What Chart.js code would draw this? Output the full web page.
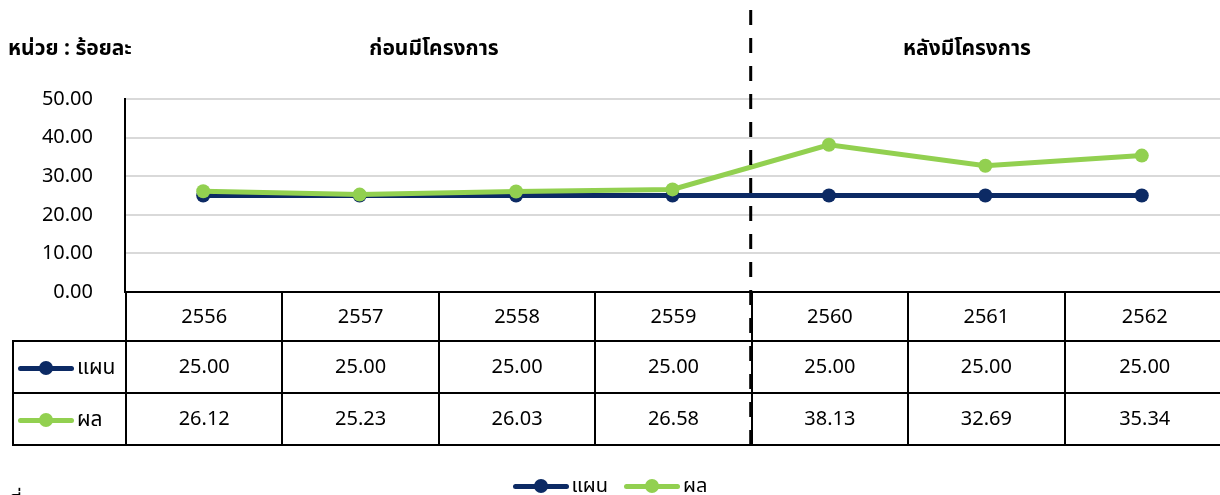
<!DOCTYPE html>
<html>
<head>
<meta charset="utf-8">
<script src="https://cdn.jsdelivr.net/npm/chart.js@4"></script>
<style>
  html, body { margin: 0; padding: 0; background: #fff; overflow: hidden; }
  body { width: 1220px; height: 495px; position: relative; font-family: Tahoma, 'Noto Sans Thai', 'Noto Sans', 'DejaVu Sans', sans-serif; color: #000; }
  #wrap { position: absolute; left: 0; top: 0; width: 1220px; height: 495px; }
  .txt { position: absolute; font-size: 20px; white-space: nowrap; }
  .bold { font-weight: bold; font-size: 21px; }
  #tbl { position: absolute; left: 12px; top: 291px; width: 1212px; border-collapse: collapse; table-layout: fixed; font-size: 20px; }
  #tbl td { border: 2px solid #000; text-align: center; padding: 0; }
  #tbl tr.head td { height: 47px; }
  #tbl tr.row td { height: 50px; }
  #tbl td.blank { border: none; }
  #tbl td.key { text-align: left; padding-left: 4px; font-size: 21px; }
  .sw { display: inline-block; position: relative; width: 56px; height: 14px; vertical-align: middle; margin-right: 3px; }
  .sw i { position: absolute; left: 0; right: 0; top: 5px; height: 5px; border-radius: 3px; }
  .sw b { position: absolute; left: 21px; top: 0; width: 14px; height: 14px; border-radius: 50%; }
  #legend { position: absolute; left: 0; width: 1220px; top: 471px; text-align: center; font-size: 20px; }
  #legend span.item { margin: 0 8px; }
</style>
</head>
<body>
<div id="wrap"><canvas id="chartPlan"></canvas></div>
<div class="txt bold" style="left:8px;top:33px">หน่วย : ร้อยละ</div>
<div class="txt bold" style="left:279px;width:310px;text-align:center;top:33px">ก่อนมีโครงการ</div>
<div class="txt bold" style="left:812px;width:310px;text-align:center;top:33px">หลังมีโครงการ</div>
<table id="tbl"></table>
<div id="legend"></div>
<div class="txt" style="left:10px;top:487px">ที่มา :</div>
<script>
const years = ['2556', '2557', '2558', '2559', '2560', '2561', '2562'];
const planVals = [25.00, 25.00, 25.00, 25.00, 25.00, 25.00, 25.00];
const resultVals = [26.12, 25.23, 26.03, 26.58, 38.13, 32.69, 35.34];
const yTicks = [0, 10, 20, 30, 40, 50];
const seriesNames = ['แผน', 'ผล'];

const navy = '#0c2a64';
const green = '#92d050';
const gridCol = '#d9d9d9';

// data table under the chart (last column runs past the page edge)
const colW = 1095 / years.length;
const swatch = c => '<span class="sw"><i style="background:' + c + '"></i><b style="background:' + c + '"></b></span>';
let html = '<colgroup><col style="width:113px">' +
    years.map((y, i) => '<col style="width:' + (i === years.length - 1 ? colW + 4 : colW) + 'px">').join('') + '</colgroup>';
html += '<tr class="head"><td class="blank"></td>' + years.map(y => '<td>' + y + '</td>').join('') + '</tr>';
html += '<tr class="row"><td class="key">' + swatch(navy) + seriesNames[0] + '</td>' + planVals.map(v => '<td>' + v.toFixed(2) + '</td>').join('') + '</tr>';
html += '<tr class="row"><td class="key">' + swatch(green) + seriesNames[1] + '</td>' + resultVals.map(v => '<td>' + v.toFixed(2) + '</td>').join('') + '</tr>';
document.getElementById('tbl').innerHTML = html;

document.getElementById('legend').innerHTML =
    '<span class="item">' + swatch(navy) + seriesNames[0] + '</span>' +
    '<span class="item">' + swatch(green) + seriesNames[1] + '</span>';

// dashed divider between before/after project
const divider = {
    id: 'divider',
    afterDraw(chart) {
        const x = chart.scales.x;
        const px = (x.getPixelForValue(3) + x.getPixelForValue(4)) / 2;
        const ctx = chart.ctx;
        ctx.save();
        ctx.strokeStyle = '#000';
        ctx.lineWidth = 3;
        ctx.setLineDash([15, 13]);
        ctx.beginPath();
        ctx.moveTo(px, 10);
        ctx.lineTo(px, 444);
        ctx.stroke();
        ctx.restore();
    }
};

new Chart(document.getElementById('chartPlan'), {
    type: 'line',
    data: {
        labels: years,
        datasets: [
            {
                label: seriesNames[0],
                data: planVals,
                borderColor: navy,
                backgroundColor: navy,
                borderWidth: 5,
                pointRadius: 7,
                pointBorderWidth: 0,
                order: 2,
            },
            {
                label: seriesNames[1],
                data: resultVals,
                borderColor: green,
                backgroundColor: green,
                borderWidth: 5,
                pointRadius: 7,
                pointBorderWidth: 0,
                order: 1,
            }
        ]
    },
    options: {
        responsive: true,
        maintainAspectRatio: false,
        animation: false,
        layout: { autoPadding: false, padding: { top: 99, bottom: 203, left: 0, right: 0 } },
        plugins: {
            legend: { display: false },
            tooltip: { enabled: false }
        },
        scales: {
            x: {
                display: false,
                offset: true,
            },
            y: {
                min: yTicks[0],
                max: yTicks[yTicks.length - 1],
                afterFit: s => { s.width = 125; },
                afterBuildTicks: s => { s.ticks = yTicks.map(v => ({ value: v })); },
                border: { color: '#000', width: 2 },
                grid: {
                    drawTicks: false,
                    lineWidth: 2,
                    color: c => c.tick && c.tick.value === 0 ? '#000' : gridCol
                },
                ticks: {
                    color: '#000',
                    padding: 32,
                    font: { size: 20, family: "Tahoma, 'Noto Sans', 'DejaVu Sans', sans-serif" },
                    callback: v => Number(v).toFixed(2)
                }
            }
        }
    },
    plugins: [divider]
});
</script>
</body>
</html>
